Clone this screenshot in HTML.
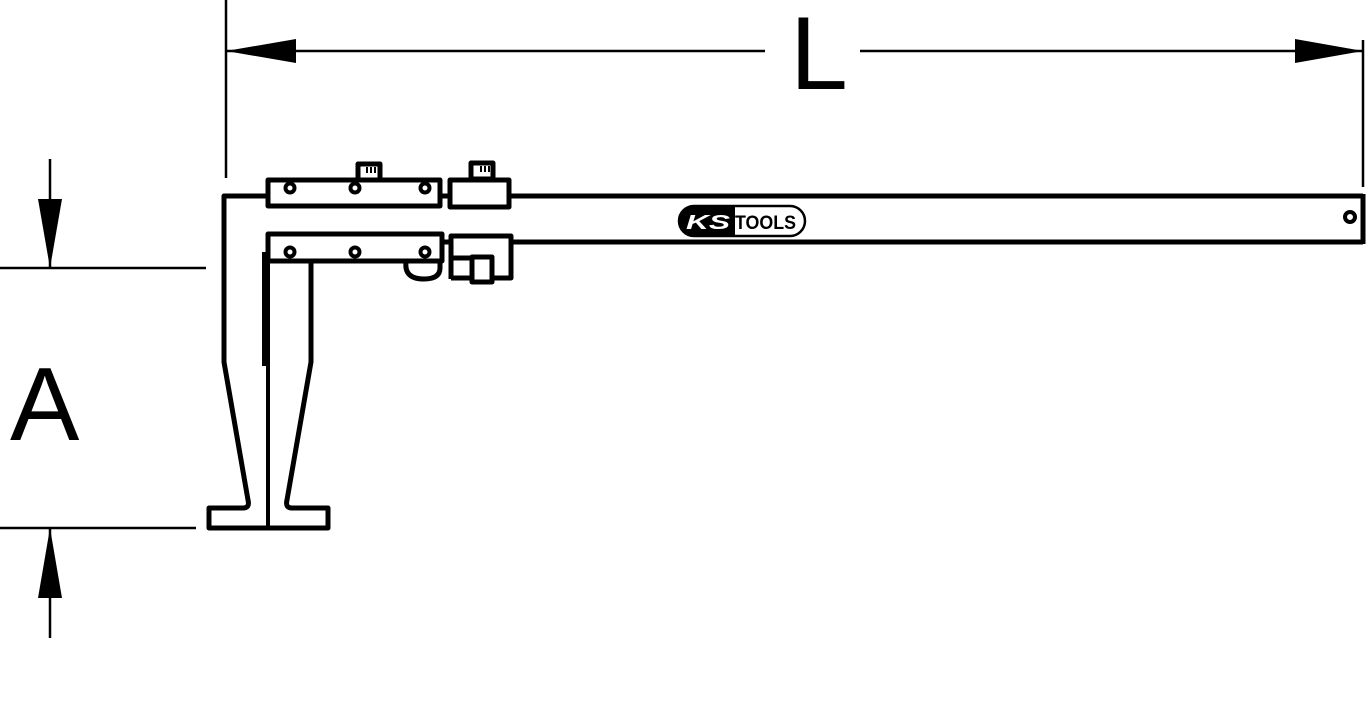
<!DOCTYPE html>
<html><head><meta charset="utf-8"><style>
html,body{margin:0;padding:0;background:#fff;}
svg{display:block;}
text{font-family:"Liberation Sans",sans-serif;}
</style></head><body>
<svg width="1366" height="725" viewBox="0 0 1366 725" xmlns="http://www.w3.org/2000/svg">
<g stroke="#000" fill="none">
<line x1="226" y1="0" x2="226" y2="178" stroke-width="2.5"/>
<line x1="1363" y1="40" x2="1363" y2="187" stroke-width="2.5"/>
<line x1="226" y1="51" x2="765" y2="51" stroke-width="2.5"/>
<line x1="860" y1="51" x2="1363" y2="51" stroke-width="2.5"/>
<line x1="0" y1="268" x2="206" y2="268" stroke-width="2.5"/>
<line x1="0" y1="528" x2="196" y2="528" stroke-width="2.5"/>
<line x1="50" y1="159" x2="50" y2="268" stroke-width="2.5"/>
<line x1="50" y1="528" x2="50" y2="638" stroke-width="2.5"/>
</g>
<g fill="#000">
<polygon points="226,51 296,39 296,63"/>
<polygon points="1363,51 1295,39 1295,63"/>
<polygon points="50,268 38,199 62,199"/>
<polygon points="50,528 38,598 62,598"/>
</g>
<text x="790" y="89" font-size="104">L</text>
<text x="10" y="440" font-size="104">A</text>

<g stroke="#000" stroke-width="5" fill="#fff" stroke-linejoin="round">
<path d="M1363,196 L224,196 L224,362 L248,500 Q250,508 243,508 L209,508 L209,528 L328,528 L328,508 L292,508 Q285,508 287,500 L311,362 L311,260"/>
<line x1="440" y1="242" x2="1363" y2="242"/>
<line x1="1363" y1="194" x2="1363" y2="244"/>
<line x1="268" y1="252" x2="268" y2="528" stroke-width="4"/>
<line x1="264" y1="252" x2="264" y2="366" stroke-width="4"/>
<rect x="358" y="164" width="22" height="16"/>
<rect x="471" y="163" width="22" height="16"/>
<rect x="268" y="180" width="172" height="26"/>
<rect x="450" y="180" width="59" height="27"/>
<line x1="440" y1="196" x2="450" y2="196"/>
<path d="M406,262 Q404,279 424,279 Q440,279 440,268 L440,262"/>
<rect x="268" y="234" width="174" height="27"/>
<path d="M451,236 L511,236 L511,278 L492,278 L492,258 L451,258 Z" fill="#fff"/>
<line x1="451" y1="236" x2="451" y2="279"/>
<line x1="451" y1="278" x2="472" y2="278"/>
<rect x="472" y="257" width="20" height="25"/>
<line x1="442" y1="242" x2="451" y2="242"/>
</g>
<g fill="#000">
<rect x="480" y="166" width="2" height="6"/><rect x="484" y="166" width="2" height="6"/><rect x="488" y="166" width="2" height="6"/>
<rect x="366" y="167" width="2" height="6"/><rect x="370" y="167" width="2" height="6"/><rect x="374" y="167" width="2" height="6"/>
</g>
<g stroke="#000" stroke-width="4" fill="#fff">
<circle cx="290" cy="188" r="4.5"/><circle cx="355" cy="188" r="4.5"/><circle cx="425" cy="188" r="4.5"/>
<circle cx="290" cy="252" r="4.5"/><circle cx="355" cy="252" r="4.5"/><circle cx="425" cy="252" r="4.5"/>
<circle cx="1350" cy="217" r="5"/>
</g>
<rect x="679" y="206" width="126" height="30" rx="15" fill="#fff" stroke="#000" stroke-width="2.5"/>
<path d="M694,206 L735,206 L735,236 L694,236 A15,15 0 0 1 694,206 Z" fill="#000"/>
<text x="686" y="229" font-size="20" font-weight="bold" font-style="italic" fill="#fff" textLength="44" lengthAdjust="spacingAndGlyphs">KS</text>
<text x="735" y="229" font-size="19" font-weight="bold" fill="#000" textLength="61" lengthAdjust="spacingAndGlyphs">TOOLS</text>
</svg>
</body></html>
